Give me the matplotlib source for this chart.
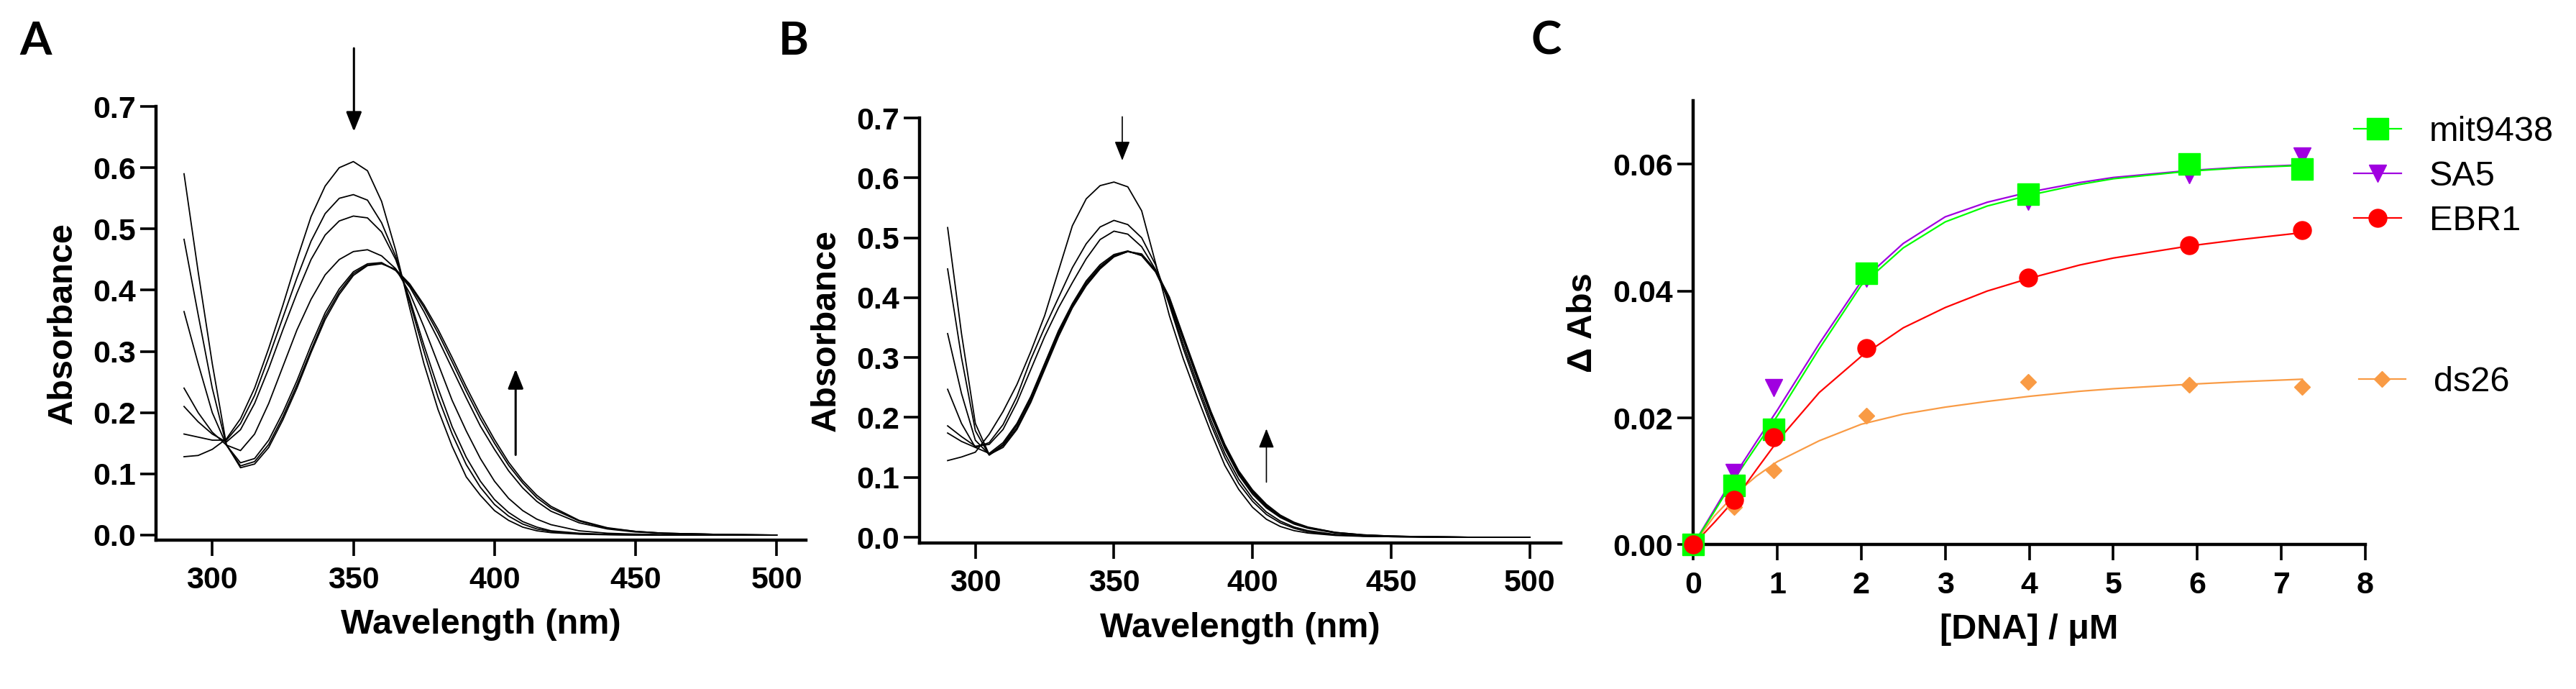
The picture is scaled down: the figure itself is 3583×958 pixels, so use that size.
import matplotlib
matplotlib.use('Agg')
import matplotlib.pyplot as plt
from matplotlib.lines import Line2D
from matplotlib.ticker import FormatStrFormatter

# ---- panel A / B : UV-vis titration spectra ----
wavelength = [290, 295, 300, 305, 310, 315, 320, 325, 330, 335, 340, 345, 350, 355,
              360, 365, 370, 375, 380, 385, 390, 395, 400, 405, 410, 415, 420,
              430, 440, 450, 460, 470, 480, 490, 500]

spectra_a = [
    [0.128, 0.130, 0.140, 0.157, 0.190, 0.240, 0.305, 0.375, 0.450, 0.520, 0.570, 0.600, 0.610, 0.595,
     0.545, 0.465, 0.370, 0.280, 0.205, 0.145, 0.095, 0.065, 0.040, 0.024, 0.013, 0.007, 0.004,
     0.0015, 0.0005, 0, 0, 0, 0, 0, 0],
    [0.165, 0.160, 0.155, 0.155, 0.182, 0.228, 0.290, 0.355, 0.420, 0.480, 0.525, 0.550, 0.556, 0.547,
     0.510, 0.455, 0.380, 0.300, 0.225, 0.165, 0.115, 0.078, 0.050, 0.031, 0.018, 0.010, 0.006,
     0.002, 0.001, 0.0005, 0, 0, 0, 0, 0],
    [0.210, 0.185, 0.165, 0.152, 0.172, 0.215, 0.272, 0.335, 0.395, 0.450, 0.490, 0.513, 0.521, 0.518,
     0.495, 0.450, 0.385, 0.310, 0.240, 0.177, 0.127, 0.088, 0.058, 0.037, 0.022, 0.013, 0.007,
     0.003, 0.001, 0.0005, 0, 0, 0, 0, 0],
    [0.240, 0.200, 0.168, 0.147, 0.138, 0.165, 0.215, 0.275, 0.335, 0.385, 0.425, 0.450, 0.463, 0.466,
     0.456, 0.435, 0.395, 0.340, 0.280, 0.220, 0.170, 0.125, 0.088, 0.060, 0.040, 0.026, 0.017,
     0.007, 0.003, 0.0015, 0.0008, 0.0004, 0, 0, 0],
    [0.365, 0.280, 0.200, 0.147, 0.118, 0.125, 0.155, 0.200, 0.252, 0.310, 0.363, 0.402, 0.430, 0.443,
     0.445, 0.432, 0.405, 0.365, 0.320, 0.272, 0.224, 0.178, 0.140, 0.105, 0.077, 0.055, 0.039,
     0.020, 0.010, 0.005, 0.003, 0.002, 0.001, 0.0005, 0],
    [0.483, 0.360, 0.240, 0.147, 0.113, 0.120, 0.148, 0.193, 0.245, 0.302, 0.357, 0.397, 0.427, 0.441,
     0.444, 0.433, 0.408, 0.372, 0.330, 0.283, 0.235, 0.190, 0.150, 0.114, 0.085, 0.061, 0.044,
     0.023, 0.011, 0.006, 0.003, 0.002, 0.001, 0.0005, 0],
    [0.590, 0.430, 0.280, 0.148, 0.110, 0.116, 0.143, 0.188, 0.240, 0.298, 0.352, 0.393, 0.424, 0.440,
     0.443, 0.434, 0.410, 0.376, 0.336, 0.290, 0.242, 0.197, 0.156, 0.119, 0.089, 0.065, 0.047,
     0.024, 0.012, 0.006, 0.003, 0.002, 0.001, 0.0005, 0],
]

spectra_b = [
    [0.128, 0.134, 0.142, 0.172, 0.210, 0.255, 0.310, 0.370, 0.445, 0.520, 0.565, 0.587, 0.593, 0.585,
     0.545, 0.458, 0.370, 0.298, 0.235, 0.175, 0.120, 0.080, 0.050, 0.030, 0.018, 0.011, 0.007,
     0.003, 0.0015, 0.001, 0.0005, 0, 0, 0, 0],
    [0.174, 0.160, 0.150, 0.158, 0.188, 0.235, 0.297, 0.350, 0.400, 0.450, 0.490, 0.518, 0.529, 0.522,
     0.500, 0.455, 0.388, 0.315, 0.250, 0.188, 0.133, 0.090, 0.060, 0.038, 0.024, 0.015, 0.009,
     0.004, 0.002, 0.001, 0.0005, 0, 0, 0, 0],
    [0.186, 0.168, 0.152, 0.155, 0.180, 0.225, 0.280, 0.335, 0.383, 0.425, 0.465, 0.497, 0.511, 0.506,
     0.485, 0.447, 0.392, 0.322, 0.257, 0.195, 0.140, 0.097, 0.065, 0.042, 0.027, 0.017, 0.011,
     0.0045, 0.002, 0.001, 0.0005, 0, 0, 0, 0],
    [0.247, 0.190, 0.150, 0.140, 0.158, 0.190, 0.235, 0.290, 0.345, 0.390, 0.428, 0.455, 0.472, 0.478,
     0.470, 0.443, 0.395, 0.330, 0.265, 0.203, 0.148, 0.104, 0.072, 0.049, 0.033, 0.022, 0.015,
     0.007, 0.003, 0.0015, 0.001, 0.0005, 0, 0, 0],
    [0.340, 0.240, 0.162, 0.138, 0.155, 0.187, 0.232, 0.287, 0.341, 0.387, 0.425, 0.452, 0.470, 0.477,
     0.471, 0.444, 0.397, 0.332, 0.268, 0.206, 0.151, 0.107, 0.075, 0.051, 0.035, 0.023, 0.016,
     0.0075, 0.0035, 0.0017, 0.001, 0.0005, 0, 0, 0],
    [0.448, 0.300, 0.178, 0.137, 0.153, 0.183, 0.228, 0.283, 0.338, 0.385, 0.422, 0.450, 0.469, 0.477,
     0.472, 0.445, 0.399, 0.334, 0.270, 0.208, 0.153, 0.109, 0.077, 0.053, 0.036, 0.024, 0.016,
     0.008, 0.004, 0.002, 0.001, 0.0005, 0, 0, 0],
    [0.517, 0.340, 0.190, 0.138, 0.150, 0.180, 0.225, 0.280, 0.335, 0.383, 0.420, 0.448, 0.468, 0.477,
     0.473, 0.446, 0.401, 0.336, 0.272, 0.210, 0.155, 0.111, 0.079, 0.055, 0.037, 0.025, 0.017,
     0.008, 0.004, 0.002, 0.001, 0.0005, 0, 0, 0],
]

# arrows (x, y_from, y_to) in data units
arrows_a = [(350.2, 0.795, 0.659), (407.5, 0.131, 0.271)]
arrows_b = [(353.0, 0.702, 0.629), (405.0, 0.092, 0.181)]

# ---- panel C : titration points and fitted curves ----
dna_conc = [0, 0.49, 0.96, 2.06, 3.99, 5.9, 7.25]
mit9438 = [0, 0.0093, 0.0182, 0.0428, 0.0553, 0.0600, 0.0592]
sa5 = [0, 0.0114, 0.0248, 0.0420, 0.0541, 0.0583, 0.0613]
ebr1 = [0, 0.0071, 0.0169, 0.0310, 0.0421, 0.0472, 0.0496]
ds26 = [0, 0.0060, 0.0117, 0.0204, 0.0257, 0.0252, 0.0249]

fit_x = [0, 0.25, 0.5, 0.75, 1, 1.5, 2, 2.5, 3, 3.5, 4, 4.6, 5, 5.9, 6.5, 7.25]
fit_mit9438 = [0, 0.0052, 0.0106, 0.0155, 0.0203, 0.0309, 0.0409, 0.0468, 0.0509, 0.0534,
               0.0551, 0.0568, 0.0577, 0.0589, 0.0594, 0.0598]
fit_sa5 = [0, 0.0055, 0.0111, 0.0162, 0.0212, 0.0317, 0.0415, 0.0475, 0.0517, 0.0540,
           0.0556, 0.0571, 0.0579, 0.0590, 0.0595, 0.0599]
fit_ebr1 = [0, 0.0035, 0.0072, 0.0118, 0.0163, 0.0240, 0.0297, 0.0342, 0.0374, 0.0400,
            0.0420, 0.0441, 0.0452, 0.0471, 0.0481, 0.0492]
fit_ds26 = [0, 0.0045, 0.0080, 0.0108, 0.0131, 0.0164, 0.0190, 0.0206, 0.0217, 0.0226,
            0.0234, 0.0242, 0.0246, 0.0253, 0.0257, 0.0261]

plt.rcParams['font.family'] = ['Liberation Sans', 'DejaVu Sans']
plt.rcParams['font.weight'] = 'bold'
plt.rcParams['axes.labelweight'] = 'bold'

fig = plt.figure(figsize=(35.83, 9.58), dpi=100)


def style_axes(ax):
    for s in ['top', 'right']:
        ax.spines[s].set_visible(False)
    for s in ['left', 'bottom']:
        ax.spines[s].set_linewidth(3.2)
    ax.tick_params(direction='out', length=16, width=2.6, labelsize=31)
    ax.tick_params(axis='y', pad=4)
    ax.tick_params(axis='x', pad=10)


def spectra_panel(rect, curves, arrows, arrow_lw, xlim, ylim):
    ax = fig.add_axes(rect)
    for c in curves:
        ax.plot(wavelength, c, color='black', lw=1.3)
    for x, y0, y1 in arrows:
        ax.annotate('', xy=(x, y1), xytext=(x, y0), annotation_clip=False,
                    arrowprops=dict(arrowstyle='-|>,head_width=0.3,head_length=0.75',
                                    mutation_scale=22, lw=arrow_lw, color='black',
                                    shrinkA=0, shrinkB=0))
    ax.set_xlim(*xlim)
    ax.set_ylim(*ylim)
    ax.set_xticks([300, 350, 400, 450, 500])
    ax.set_yticks([0, 0.1, 0.2, 0.3, 0.4, 0.5, 0.6, 0.7])
    ax.yaxis.set_major_formatter(FormatStrFormatter('%.1f'))
    ax.set_xlabel('Wavelength (nm)', fontsize=35, labelpad=14)
    ax.set_ylabel('Absorbance', fontsize=35, labelpad=14)
    style_axes(ax)
    return ax


ax_a = spectra_panel([0.0606, 0.2163, 0.2523, 0.6292], spectra_a, arrows_a, 2.2,
                     (280.1, 510.4), (-0.008, 0.7))
ax_b = spectra_panel([0.3570, 0.2119, 0.2490, 0.6169], spectra_b, arrows_b, 1.2,
                     (279.9, 511.3), (-0.0096, 0.7))

# ---- panel C ----
ax_c = fig.add_axes([0.6573, 0.2093, 0.2609, 0.6445])
series = [
    ('SA5', sa5, fit_sa5, '#a000e0', 'v', 17, 4),
    ('ds26', ds26, fit_ds26, '#f99b45', 'D', 11, 5),
    ('mit9438', mit9438, fit_mit9438, '#00ff00', 's', 21, 6),
    ('EBR1', ebr1, fit_ebr1, '#ff0000', 'o', 18, 7),
]
handles = {}
for name, ys, fit, col, mk, ms, z in series:
    ax_c.plot(fit_x, fit, color=col, lw=1.6, zorder=z)
    ax_c.plot(dna_conc, ys, ls='none', marker=mk, ms=ms, color=col, mec=col,
              zorder=z + 10, clip_on=False)
    handles[name] = Line2D([], [], color=col, lw=1.6, marker=mk, ms=ms, mec=col)

ax_c.set_xlim(0, 8)
ax_c.set_ylim(0, 0.07)
ax_c.set_xticks(range(0, 9))
ax_c.set_yticks([0, 0.02, 0.04, 0.06])
ax_c.yaxis.set_major_formatter(FormatStrFormatter('%.2f'))
ax_c.set_xlabel('[DNA] / \u03bcM', fontsize=35, labelpad=14)
ax_c.set_ylabel('\u0394 Abs', fontsize=35, labelpad=14)
style_axes(ax_c)

leg_prop = dict(family='Liberation Sans', weight='normal', size=35)
leg1 = ax_c.legend(handles=[handles['mit9438'], handles['SA5'], handles['EBR1']],
                   labels=['mit9438', 'SA5', 'EBR1'], loc='center left',
                   bbox_to_anchor=(0.983, 0.829), frameon=False, prop=leg_prop,
                   handlelength=1.35, handletextpad=0.8, labelspacing=0.35,
                   borderpad=0, borderaxespad=0)
ax_c.add_artist(leg1)
ax_c.legend(handles=[handles['ds26']], labels=['ds26'], loc='center left',
            bbox_to_anchor=(0.99, 0.366), frameon=False, prop=leg_prop,
            handlelength=1.35, handletextpad=0.8, borderpad=0, borderaxespad=0)

# panel letters
for x, letter in [(0.0075, 'A'), (0.3023, 'B'), (0.5942, 'C')]:
    fig.text(x, 0.9207, letter, fontfamily='Lato', fontweight='bold', fontsize=46,
             va='baseline')

fig.savefig('out.png', dpi=100)
